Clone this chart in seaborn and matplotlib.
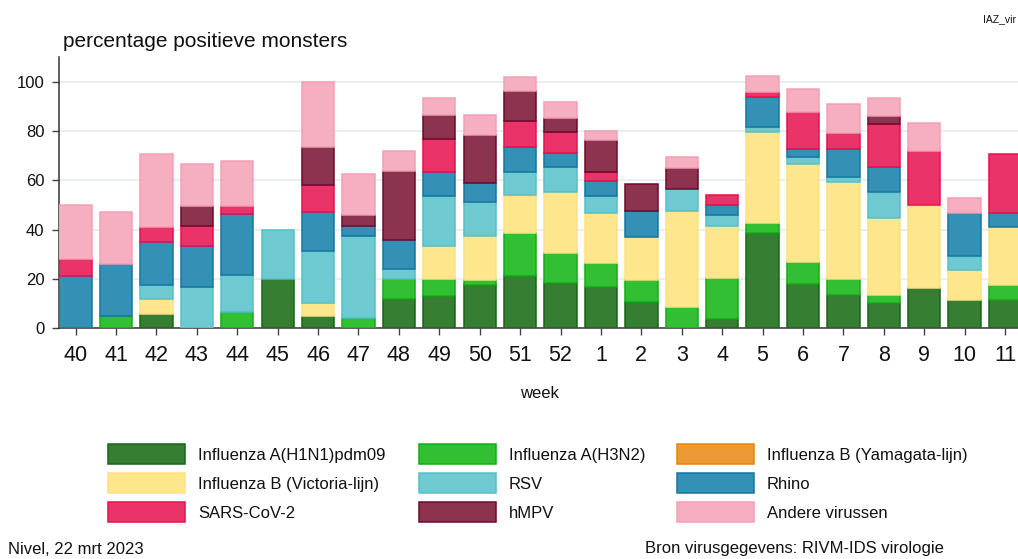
import matplotlib
matplotlib.use("Agg")
import numpy as np
import matplotlib.pyplot as plt
import seaborn as sns
from matplotlib.patches import Rectangle

# --- data: percentage positive samples per virus, per week ---
weeks = ["40", "41", "42", "43", "44", "45", "46", "47", "48", "49", "50", "51",
         "52", "1", "2", "3", "4", "5", "6", "7", "8", "9", "10", "11"]

h1n1 = [0, 0, 5.7, 0, 0, 19.8, 4.9, 0, 11.7, 13.1, 17.5, 21.0,
        18.2, 16.6, 10.5, 0, 3.9, 38.5, 17.8, 13.3, 10.1, 16.4, 11.3, 11.6]
h3n2 = [0, 4.9, 0, 0, 6.7, 0, 0, 4.0, 8.1, 6.7, 1.9, 17.5,
        12.3, 9.7, 8.9, 8.5, 16.6, 4.1, 9.2, 6.8, 3.5, 0, 0, 5.7]
yamagata = [0] * 24
victoria = [0, 0, 6.0, 0, 0, 0, 5.2, 0, 0, 13.5, 17.9, 15.7,
            24.6, 20.3, 17.5, 39.2, 21.0, 37.0, 39.6, 39.1, 31.0, 33.6, 12.2, 23.7]
rsv = [0, 0, 6.0, 16.6, 14.7, 20.1, 21.3, 33.2, 4.2, 20.2, 13.8, 9.0,
       10.1, 6.9, 0, 8.6, 4.5, 2.1, 2.9, 2.0, 10.5, 0, 5.9, 0]
rhino = [21.3, 21.0, 17.3, 16.6, 25.0, 0, 15.6, 4.3, 11.8, 9.7, 7.7, 10.4,
         6.0, 6.3, 10.8, 0, 3.9, 12.1, 3.0, 11.6, 10.4, 0, 17.5, 5.9]
sars = [6.9, 0, 6.1, 8.3, 3.2, 0, 11.0, 0, 0, 13.5, 0, 10.5,
        8.3, 3.4, 0, 0, 4.1, 2.0, 15.1, 6.4, 17.2, 22.0, 0, 23.7]
hmpv = [0, 0, 0, 8.2, 0, 0, 15.6, 4.2, 28.1, 9.8, 19.5, 12.3,
        5.8, 13.2, 10.8, 8.8, 0, 0, 0, 0, 3.3, 0, 0, 0]
andere = [21.8, 21.3, 29.5, 17.0, 18.3, 0, 26.4, 16.8, 8.1, 6.9, 8.2, 5.5,
          6.3, 3.5, 0, 4.4, 0, 6.4, 9.3, 11.6, 7.3, 11.3, 5.9, 0]

labels = ["Influenza A(H1N1)pdm09", "Influenza A(H3N2)", "Influenza B (Yamagata-lijn)",
          "Influenza B (Victoria-lijn)", "RSV", "Rhino", "SARS-CoV-2", "hMPV",
          "Andere virussen"]
series = [h1n1, h3n2, yamagata, victoria, rsv, rhino, sars, hmpv, andere]

face_colors = ["#367f32", "#33bf33", "#eb9a35", "#fde68c", "#6fc9d1",
               "#3490b4", "#ea3469", "#8c344f", "#f5afc1"]
edge_colors = ["#17661a", "#13ad13", "#e5840c", "#fde284", "#56bfc8",
               "#1577a1", "#e8104f", "#6e0a2c", "#f2a0b5"]

sns.set_theme(style="white")
plt.rcParams["font.family"] = ["Liberation Sans", "DejaVu Sans"]
TXT = "#111111"

W, H = 1018, 559
fig = plt.figure(figsize=(W / 100, H / 100), dpi=100)
ax = fig.add_axes([0.058, 0.413, 0.942, 0.485])

x = np.arange(len(weeks))
bottom = np.zeros(len(weeks))
for vals, lab, fc, ec in zip(series, labels, face_colors, edge_colors):
    vals = np.array(vals, dtype=float)
    heights = np.where(vals > 0, vals, np.nan)  # skip empty segments
    ax.bar(x, heights, bottom=bottom, width=0.8, color=fc, edgecolor=ec,
           linewidth=1.1, label=lab, zorder=3)
    bottom += vals

ax.set_xlim(-0.41, 23.32)
ax.set_ylim(0, 110)
ax.set_yticks([0, 20, 40, 60, 80, 100])
ax.set_xticks(x)
ax.set_xticklabels(weeks)
ax.yaxis.grid(True, color="#e8efef", linewidth=1.4, zorder=0)
ax.xaxis.grid(False)
ax.tick_params(axis="x", length=5, width=1, color="#444444", pad=7,
               labelsize=15.5, bottom=True, labelcolor=TXT)
ax.tick_params(axis="y", length=5, width=1, color="#444444", pad=5.5,
               labelsize=12, left=True, labelcolor=TXT)
sns.despine(ax=ax)
for side in ["left", "bottom"]:
    ax.spines[side].set_color("#333333")
    ax.spines[side].set_linewidth(1.1)

fig.text(63 / W, 1 - 47 / H, "percentage positieve monsters", fontsize=15,
         ha="left", va="baseline", color=TXT)
fig.text(1016 / W, 1 - 19 / H, "IAZ_vir", fontsize=7.5, ha="right", va="center",
         color=TXT)
fig.text(539.5 / W, 1 - 394 / H, "week", fontsize=12, ha="center", va="center",
         color=TXT)

# legend drawn row-wise in three columns, like the original
col_x = [108, 419, 677]
row_y = [454, 483, 512]
for i, (lab, fc, ec) in enumerate(zip(labels, face_colors, edge_colors)):
    px, py = col_x[i % 3], row_y[i // 3]
    fig.add_artist(Rectangle((px / W, 1 - (py + 10) / H), 77 / W, 20 / H,
                             transform=fig.transFigure, facecolor=fc,
                             edgecolor=ec, linewidth=1.1))
    fig.text((px + 90) / W, 1 - py / H, lab, fontsize=12, ha="left",
             va="center_baseline", color=TXT)

fig.text(8 / W, 1 - 549 / H, "Nivel, 22 mrt 2023", fontsize=12, ha="left",
         va="center", color=TXT)
fig.text(645 / W, 1 - 549 / H, "Bron virusgegevens: RIVM-IDS virologie",
         fontsize=12, ha="left", va="center", color=TXT)

fig.savefig("out.png", dpi=100)
